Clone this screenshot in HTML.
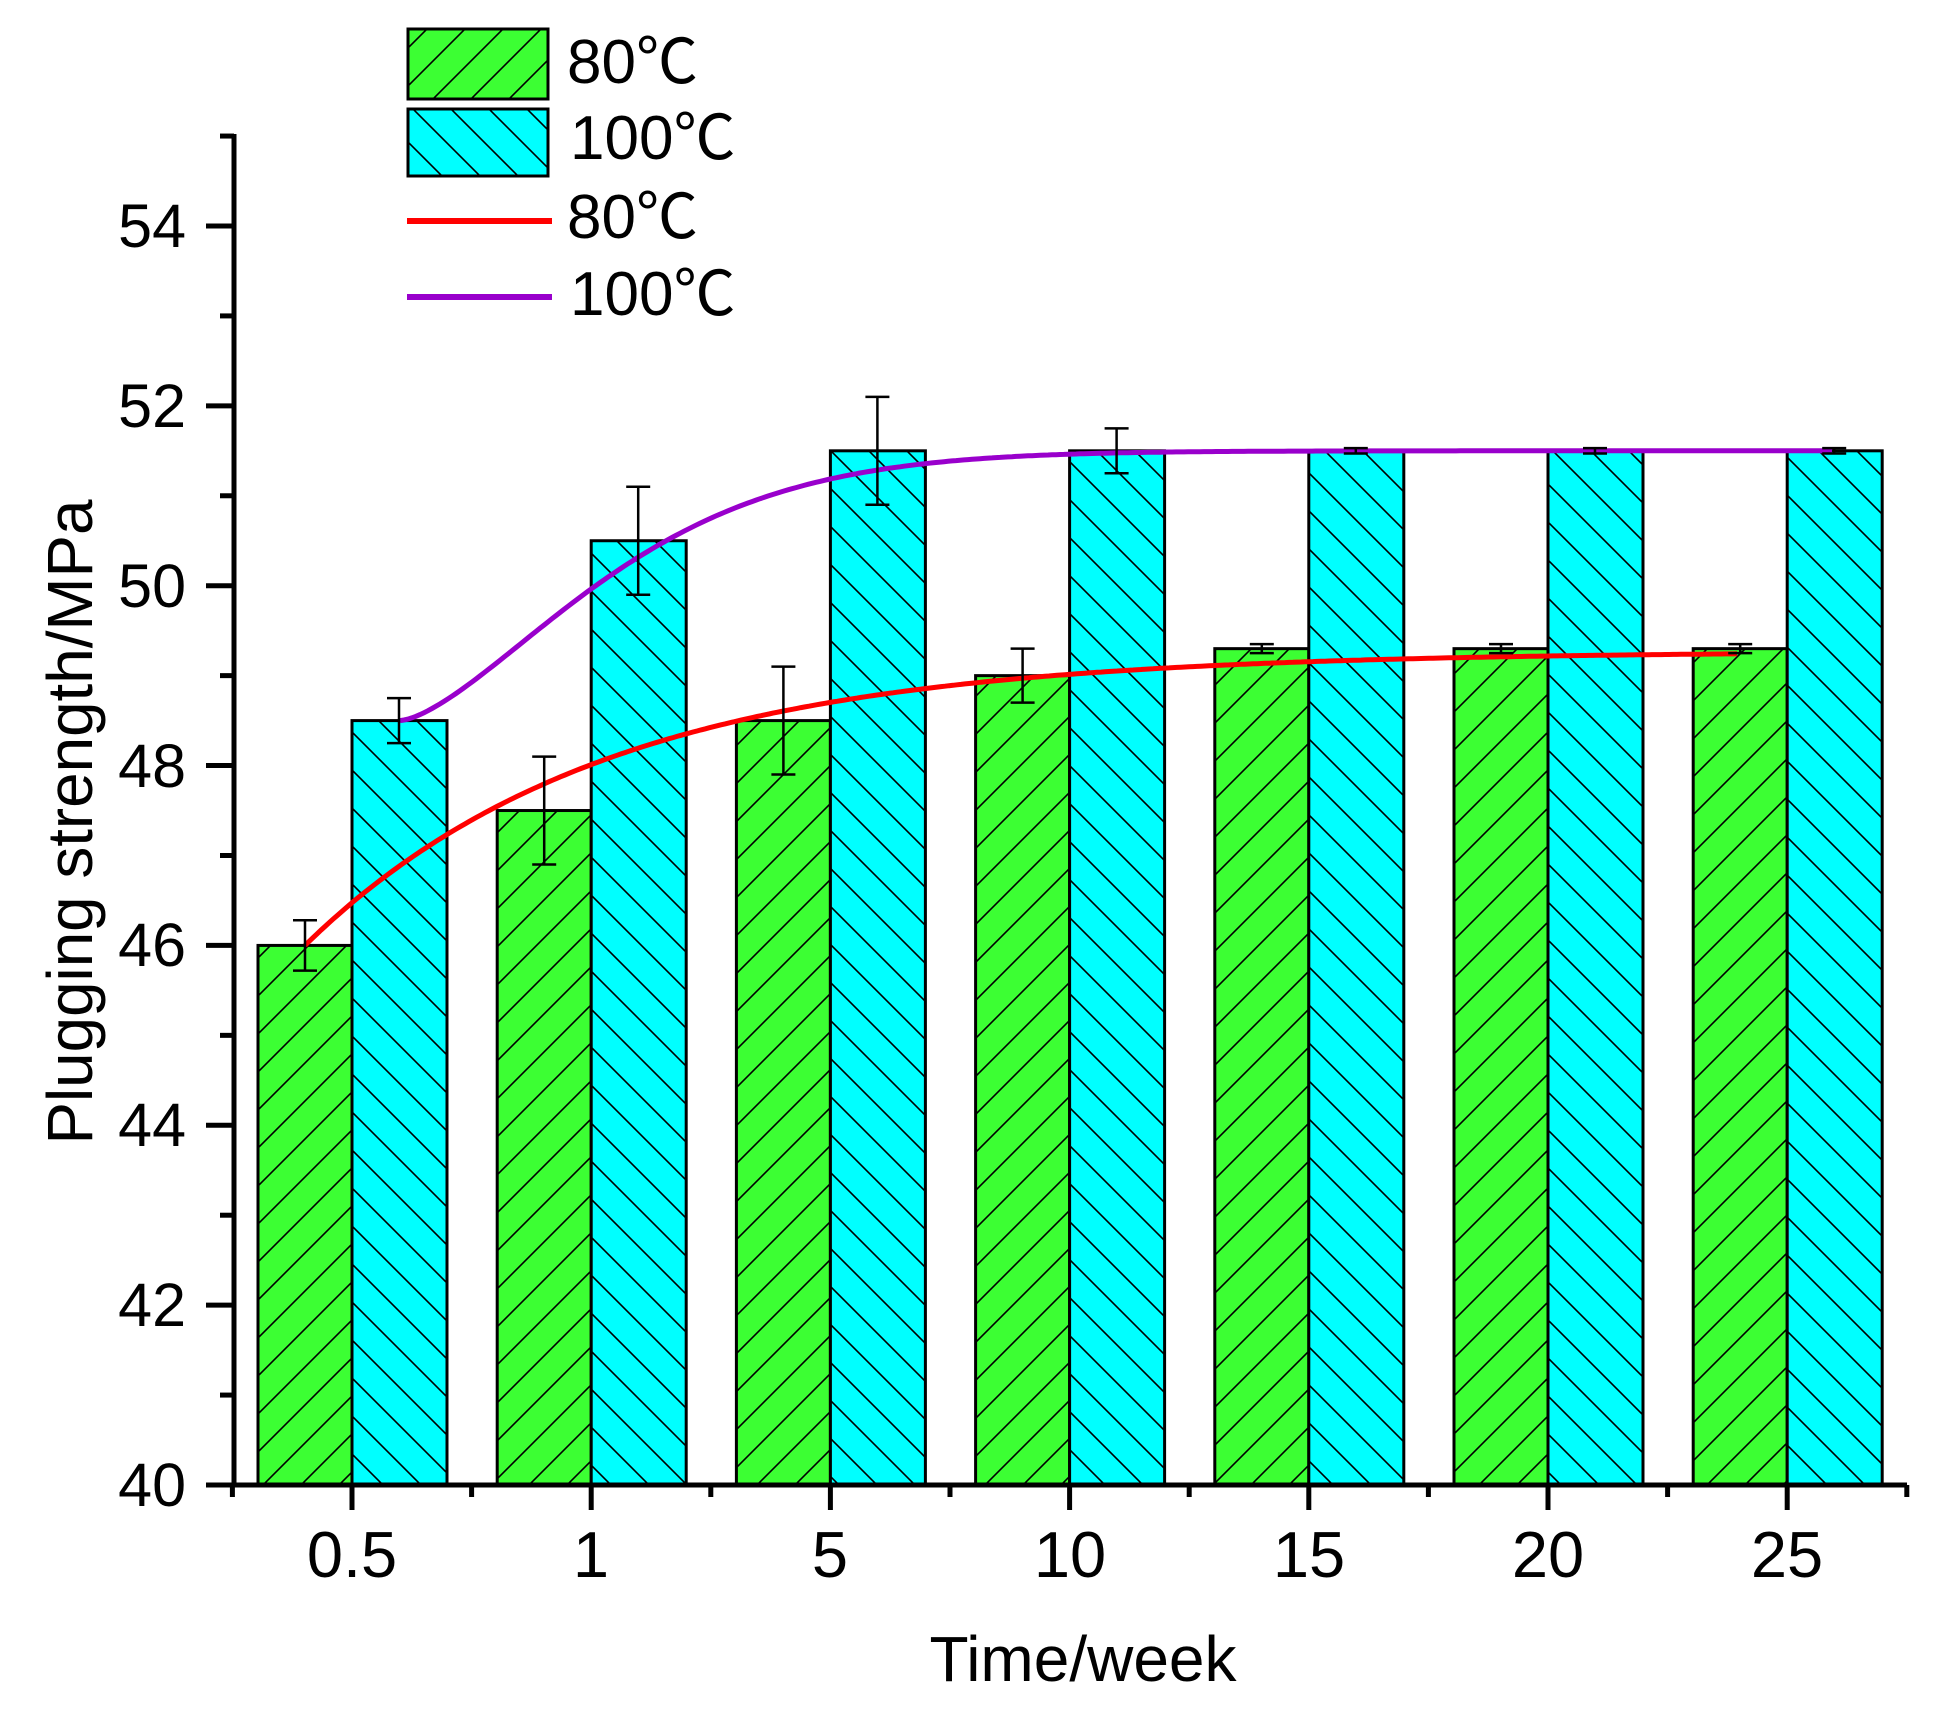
<!DOCTYPE html>
<html><head><meta charset="utf-8"><style>
html,body{margin:0;padding:0;background:#fff;}
svg{display:block;}
text{font-family:"Liberation Sans","Noto Sans CJK SC",sans-serif;fill:#000;}
</style></head><body>
<svg id="s" width="1954" height="1709" viewBox="0 0 1954 1709" xmlns="http://www.w3.org/2000/svg">
<defs>
<pattern id="hg" patternUnits="userSpaceOnUse" width="38" height="38">
<rect width="38" height="38" fill="#3cff33"/>
<path d="M-1,39 L39,-1 M-20,20 L20,-20 M18,58 L58,18" stroke="#000" stroke-width="1.6"/>
</pattern>
<pattern id="hc" patternUnits="userSpaceOnUse" width="38" height="38">
<rect width="38" height="38" fill="#00ffff"/>
<path d="M-1,-1 L39,39 M-20,18 L20,58 M18,-20 L58,20" stroke="#000" stroke-width="1.6"/>
</pattern>
</defs>
<g id="bars"></g>
<g id="curves" fill="none" stroke-width="5"></g>
<g id="err" stroke="#000" stroke-width="2.5" fill="none"></g>
<g id="axes" stroke="#000" fill="none"></g>
<g font-size="61" text-anchor="end">
<text x="186" y="1506">40</text>
<text x="186" y="1326">42</text>
<text x="186" y="1146">44</text>
<text x="186" y="966">46</text>
<text x="186" y="787">48</text>
<text x="186" y="607">50</text>
<text x="186" y="427">52</text>
<text x="186" y="247">54</text>
</g>
<g font-size="65" text-anchor="middle">
<text x="352" y="1577">0.5</text>
<text x="591" y="1577">1</text>
<text x="830" y="1577">5</text>
<text x="1070" y="1577">10</text>
<text x="1309" y="1577">15</text>
<text x="1548" y="1577">20</text>
<text x="1787" y="1577">25</text>
</g>
<text x="1083" y="1681" font-size="64" text-anchor="middle" textLength="307" lengthAdjust="spacingAndGlyphs">Time/week</text>
<text transform="translate(92,822) rotate(-90)" font-size="64" text-anchor="middle" textLength="645" lengthAdjust="spacingAndGlyphs">Plugging strength/MPa</text>
<rect x="408" y="29" width="140" height="70" fill="url(#hg)" stroke="#000" stroke-width="3"/>
<rect x="408" y="109" width="140" height="67" fill="url(#hc)" stroke="#000" stroke-width="3"/>
<line x1="407" y1="221" x2="552" y2="221" stroke="#ff0000" stroke-width="6"/>
<line x1="407" y1="297" x2="552" y2="297" stroke="#9900cc" stroke-width="6"/>
<g font-size="62">
<text x="567" y="83">80℃</text>
<text x="570" y="159">100℃</text>
<text x="567" y="238">80℃</text>
<text x="570" y="315">100℃</text>
</g>
</svg>
<script>
(function(){
var NS="http://www.w3.org/2000/svg";
function Y(v){return 1485-(v-40)*89.93;}
function el(p,t,a){var e=document.createElementNS(NS,t);for(var k in a)e.setAttribute(k,a[k]);document.getElementById(p).appendChild(e);return e;}
var g=[46,47.5,48.5,49,49.3,49.3,49.3], c=[48.5,50.5,51.5,51.5,51.5,51.5,51.5];
var ge=[0.28,0.6,0.6,0.3,0.05,0.05,0.05], ce=[0.25,0.6,0.6,0.25,0.03,0.03,0.03];
for(var i=0;i<7;i++){
 var x=352+239.2*i;
 el("bars","rect",{x:x-94,y:Y(g[i]),width:94,height:1485-Y(g[i]),fill:"url(#hg)",stroke:"#000","stroke-width":3});
 el("bars","rect",{x:x,y:Y(c[i]),width:95,height:1485-Y(c[i]),fill:"url(#hc)",stroke:"#000","stroke-width":3});
 [[x-47,g[i],ge[i]],[x+47,c[i],ce[i]]].forEach(function(q){
  var t=Y(q[1]+q[2]),b=Y(q[1]-q[2]);
  el("err","path",{d:"M"+q[0]+","+t+"V"+b+"M"+(q[0]-12)+","+t+"h24M"+(q[0]-12)+","+b+"h24"});
 });
}
var d="";for(var x=305;x<=1739;x+=4){var v=49.27-3.27*Math.exp(-(x-305)/300);d+=(x==305?"M":"L")+x+","+Y(v).toFixed(1);}
el("curves","path",{d:d,stroke:"#ff0000"});
d="";for(var x=400;x<=1834;x+=4){var v=51.5-3*Math.exp(-Math.pow((x-400)/250,1.5));d+=(x==400?"M":"L")+x+","+Y(v).toFixed(1);}
el("curves","path",{d:d,stroke:"#9900cc"});
el("axes","path",{d:"M234,134V1487M232,1485H1907","stroke-width":5});
for(var v=40;v<=55;v++){var y=Y(v);var L=(v%2==0)?28:14;el("axes","path",{d:"M"+(234-L)+","+y+"H234","stroke-width":5});}
for(var i=0;i<7;i++){var x=352+239.2*i;el("axes","path",{d:"M"+x+",1485v25","stroke-width":5});}
for(var i=0;i<8;i++){var x=232.4+239.2*i;el("axes","path",{d:"M"+x+",1485v12","stroke-width":5});}
})();
</script>
</body></html>
